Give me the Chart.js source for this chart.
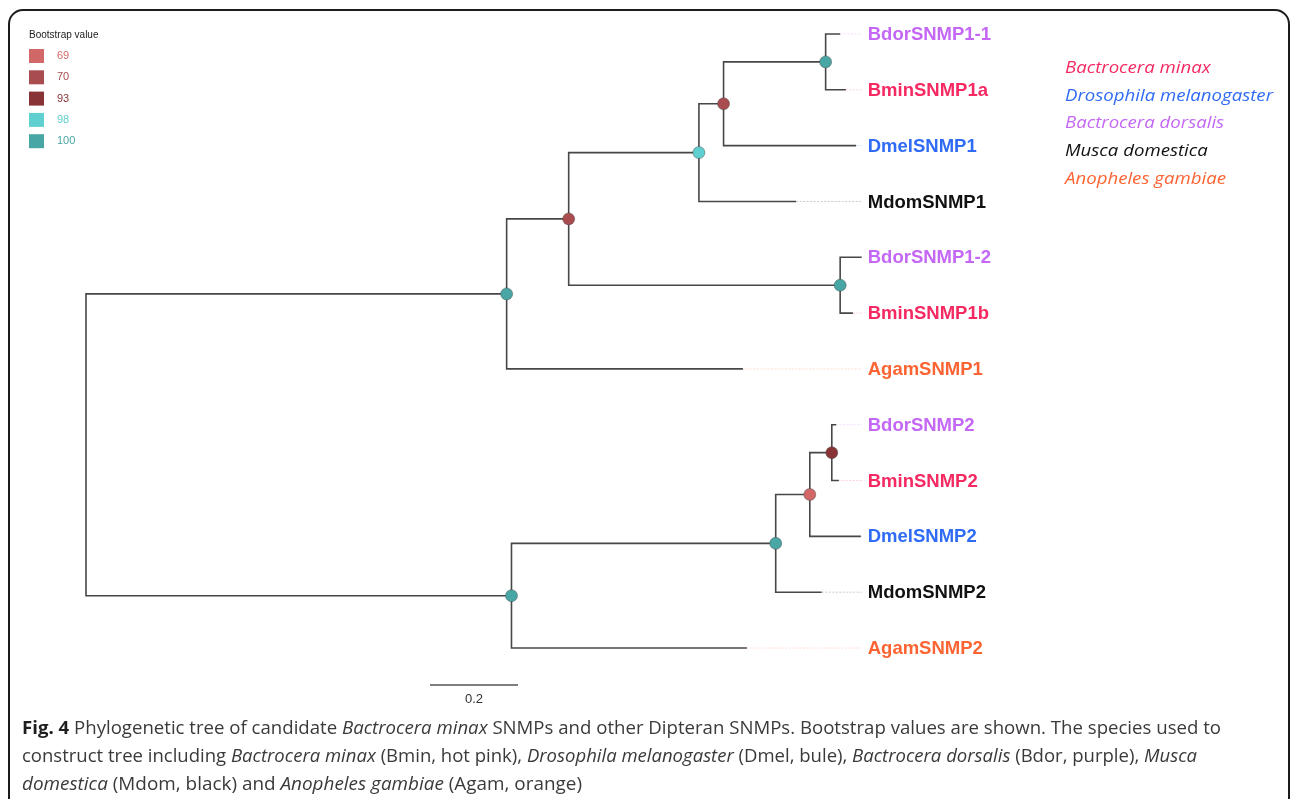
<!DOCTYPE html>
<html><head><meta charset="utf-8">
<script src="https://cdn.jsdelivr.net/npm/chart.js@4.4.1/dist/chart.umd.min.js"></script>
<style>html,body{margin:0;padding:0;background:#fff;overflow:hidden}canvas{display:block}</style>
</head><body>
<canvas id="c" width="1290" height="799"></canvas>
<script>
// ---------------- DATA ----------------
// internal nodes of the tree
const nodeIds = ['root','n1','n2','n3','n4','n5','n6','n7','n8','n9','n10'];
const nodeParents = [null,'root','n1','n2','n3','n4','n2','root','n7','n8','n9'];
const nodeBranchLengths = [0,0.956,0.141,0.296,0.056,0.232,0.617,0.967,0.6005,0.0775,0.050];
const nodeBootstrap = [null,100,70,98,70,100,100,100,100,69,93];

// tips (top to bottom)
const tipLabels = ['BdorSNMP1-1','BminSNMP1a','DmelSNMP1','MdomSNMP1','BdorSNMP1-2','BminSNMP1b','AgamSNMP1',
                   'BdorSNMP2','BminSNMP2','DmelSNMP2','MdomSNMP2','AgamSNMP2'];
const tipParents = ['n5','n5','n4','n3','n6','n6','n1','n10','n10','n9','n8','n7'];
const tipBranchLengths = [0.033,0.046,0.301,0.221,0.049,0.029,0.537,0.010,0.016,0.116,0.1045,0.535];
const tipSpecies = ['Bdor','Bmin','Dmel','Mdom','Bdor','Bmin','Agam','Bdor','Bmin','Dmel','Mdom','Agam'];

// legends
const bootstrapLevels = [69,70,93,98,100];
const speciesCodes = ['Bmin','Dmel','Bdor','Mdom','Agam'];
const speciesNames = ['Bactrocera minax','Drosophila melanogaster','Bactrocera dorsalis','Musca domestica','Anopheles gambiae'];
const scaleBarLength = 0.2;
const scaleBarLabel = '0.2';
const legendTitle = 'Bootstrap value';

// caption (runs: text, style)
const captionLines = [
  [['Fig. 4','b'],[' Phylogenetic tree of candidate ',''],['Bactrocera minax','i'],[' SNMPs and other Dipteran SNMPs. Bootstrap values are shown. The species used to','']],
  [['construct tree including ',''],['Bactrocera minax','i'],[' (Bmin, hot pink), ',''],['Drosophila melanogaster','i'],[' (Dmel, bule), ',''],['Bactrocera dorsalis','i'],[' (Bdor, purple), ',''],['Musca','i']],
  [['domestica','i'],[' (Mdom, black) and ',''],['Anopheles gambiae','i'],[' (Agam, orange)','']]
];

// ---------------- STYLE / LAYOUT ----------------
const bootstrapColors = {69:'#d16767',70:'#a84c4f',93:'#883437',98:'#5fcfcf',100:'#48a6a4'};
const speciesColors = {Bmin:'#f52a62',Dmel:'#2f6bf5',Bdor:'#c467f5',Mdom:'#111111',Agam:'#fc6433'};
const W = 1290, H = 799;
const ROOT_PX = 86, PX_PER_UNIT = 440;
const TIP_TOP_PX = 34, TIP_STEP_PX = 55.82;

function hexA(hex, a){const n=parseInt(hex.slice(1),16);return `rgba(${n>>16&255},${n>>8&255},${n&255},${a})`;}

// ---------------- TREE LAYOUT ----------------
const nodes = {};
nodeIds.forEach((id,i)=>{nodes[id]={id,parent:nodeParents[i],bl:nodeBranchLengths[i],boot:nodeBootstrap[i],children:[],tip:false};});
tipLabels.forEach((lab,i)=>{nodes[lab]={id:lab,parent:tipParents[i],bl:tipBranchLengths[i],tip:true,index:i,species:tipSpecies[i],children:[]};});
Object.values(nodes).forEach(n=>{if(n.parent) nodes[n.parent].children.push(n);});
function depthOf(n){return n.parent ? depthOf(nodes[n.parent]) + n.bl : 0;}
function yOf(n){ if(n.tip) return n.index; const ys=n.children.map(yOf); return (Math.min(...ys)+Math.max(...ys))/2; }
Object.values(nodes).forEach(n=>{n.depth=depthOf(n); n.y=yOf(n);});
const tips = tipLabels.map(l=>nodes[l]);
const alignDepth = Math.max(...tips.map(t=>t.depth));

const branchData = [];
Object.values(nodes).forEach(n=>{
  if(!n.parent) return;
  const p = nodes[n.parent];
  branchData.push({x:p.depth,y:p.y},{x:p.depth,y:n.y},{x:n.depth,y:n.y},{x:n.depth,y:null});
});
const internal = nodeIds.map(id=>nodes[id]).filter(n=>n.boot!=null);
const dotData = internal.map(n=>({x:n.depth,y:n.y}));
const dotColors = internal.map(n=>bootstrapColors[n.boot]);

const guideSets = tips.filter(t=>t.depth<alignDepth-1e-6).map(t=>({
  type:'scatter', showLine:true, data:[{x:t.depth,y:t.y},{x:alignDepth,y:t.y}],
  borderColor:hexA(speciesColors[t.species],0.22), borderWidth:1, borderDash:[2,1.5],
  pointRadius:0, order:5
}));

// ---------------- DRAWING PLUGINS ----------------
const decor = {
  id:'decor',
  beforeDraw(chart){
    const ctx=chart.ctx;
    ctx.save();
    ctx.fillStyle='#fff'; ctx.fillRect(0,0,W,H);
    ctx.strokeStyle='#1c1c1c'; ctx.lineWidth=2;
    ctx.beginPath(); ctx.roundRect(9,10,1280,900,14); ctx.stroke();
    ctx.restore();
  },
  afterDatasetsDraw(chart){
    const ctx=chart.ctx, xs=chart.scales.x, ys=chart.scales.y;
    ctx.save();
    // tip labels
    ctx.font='bold 18.5px "Liberation Sans", Arial, sans-serif';
    ctx.textBaseline='middle'; ctx.textAlign='left';
    const lx = xs.getPixelForValue(alignDepth)+6;
    tips.forEach(t=>{ctx.fillStyle=speciesColors[t.species]; ctx.fillText(t.id, lx, ys.getPixelForValue(t.y)+1);});

    // bootstrap legend
    ctx.font='10px "Liberation Sans", Arial, sans-serif';
    ctx.fillStyle='#222'; ctx.fillText(legendTitle, 29, 35);
    ctx.font='11px "Liberation Sans", Arial, sans-serif';
    bootstrapLevels.forEach((b,i)=>{
      const cy = 56 + i*21.3;
      ctx.fillStyle=bootstrapColors[b];
      ctx.fillRect(29, cy-7, 15, 14);
      ctx.fillText(String(b), 57, cy);
    });

    // species legend
    ctx.font='italic 17px "Open Sans", sans-serif';
    const sx = 208 / ctx.measureText(speciesNames[1]).width;
    speciesNames.forEach((nm,i)=>{
      ctx.save(); ctx.translate(1065, 68 + i*27.8); ctx.scale(sx,1);
      ctx.fillStyle=speciesColors[speciesCodes[i]]; ctx.fillText(nm,0,0); ctx.restore();
    });

    // scale bar
    const x0 = 430, x1 = x0 + (xs.getPixelForValue(scaleBarLength)-xs.getPixelForValue(0));
    ctx.strokeStyle='#555'; ctx.lineWidth=1.6;
    ctx.beginPath(); ctx.moveTo(x0,685); ctx.lineTo(x1,685); ctx.stroke();
    ctx.fillStyle='#333'; ctx.font='13px "Liberation Sans", Arial, sans-serif'; ctx.textAlign='center';
    ctx.fillText(scaleBarLabel,(x0+x1)/2,699);

    // caption
    ctx.textAlign='left';
    const targets=[1199,1175,560], cys=[729,757,785];
    const fontFor=s=> (s==='b'?'bold ':'')+(s==='i'?'italic ':'')+'18px "Open Sans", sans-serif';
    captionLines.forEach((runs,li)=>{
      let tw=0; runs.forEach(([t,s])=>{ctx.font=fontFor(s); tw+=ctx.measureText(t).width;});
      const k=targets[li]/tw;
      ctx.save(); ctx.translate(22,cys[li]); ctx.scale(k,1);
      let x=0;
      runs.forEach(([t,s])=>{ctx.font=fontFor(s); ctx.fillStyle= s==='b' ? '#1e1e1e' : '#3a3a3a'; ctx.fillText(t,x,0); x+=ctx.measureText(t).width;});
      ctx.restore();
    });
    ctx.restore();
  }
};

const xMin = -ROOT_PX/PX_PER_UNIT, yMin = -TIP_TOP_PX/TIP_STEP_PX;
new Chart(document.getElementById('c'), {
  type:'scatter',
  data:{datasets:[
    {data:dotData, pointRadius:6, pointHoverRadius:6, pointBackgroundColor:dotColors,
     pointBorderColor:'rgba(70,70,70,0.55)', pointBorderWidth:0.8, order:0},
    {data:branchData, showLine:true, borderColor:'#474747', borderWidth:1.6, pointRadius:0, spanGaps:false, order:2},
    ...guideSets
  ]},
  options:{
    responsive:false, animation:false, devicePixelRatio:1,
    layout:{padding:0, autoPadding:false},
    scales:{
      x:{type:'linear', display:false, min:xMin, max:xMin+W/PX_PER_UNIT},
      y:{type:'linear', display:false, reverse:true, min:yMin, max:yMin+H/TIP_STEP_PX}
    },
    plugins:{legend:{display:false}, tooltip:{enabled:false}},
    events:[]
  },
  plugins:[decor]
});
</script>
</body></html>
